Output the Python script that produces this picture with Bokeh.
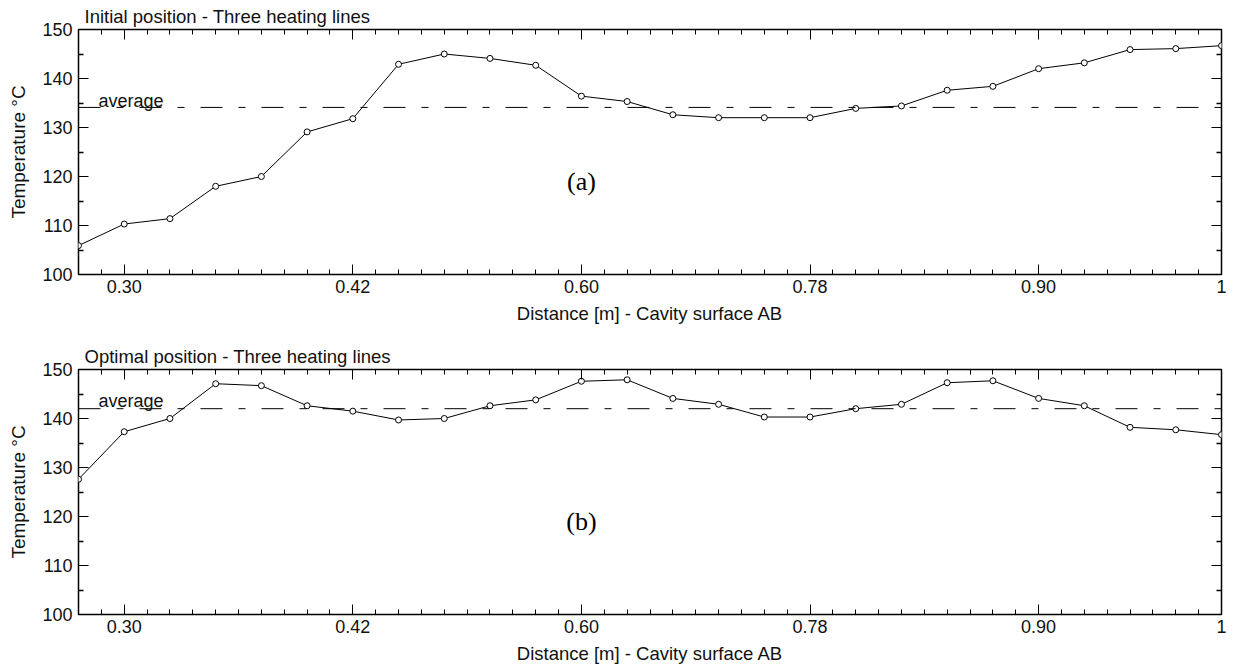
from bokeh.plotting import figure
from bokeh.layouts import column
from bokeh.models import Range1d, FixedTicker, LinearAxis, Span, Label
from bokeh.embed import file_html
from bokeh.resources import INLINE

# ---------------- data ----------------
point_index = list(range(26))
x_tick_positions = [1, 6, 11, 16, 21, 25]
x_tick_labels = ["0.30", "0.42", "0.60", "0.78", "0.90", "1"]
y_ticks = [100, 110, 120, 130, 140, 150]
y_minor_ticks = [105, 115, 125, 135, 145]

temp_initial = [105.9, 110.3, 111.4, 118.0, 120.0, 129.1, 131.8, 142.9, 145.0, 144.1,
                142.7, 136.4, 135.3, 132.6, 132.0, 132.0, 132.0, 133.9, 134.4, 137.6,
                138.4, 142.0, 143.2, 145.9, 146.1, 146.7]
temp_optimal = [127.6, 137.3, 140.0, 147.1, 146.7, 142.6, 141.5, 139.7, 140.0, 142.6,
                143.8, 147.6, 147.9, 144.1, 142.9, 140.3, 140.3, 142.0, 142.9, 147.3,
                147.7, 144.1, 142.6, 138.2, 137.7, 136.7]
avg_initial = 134.1
avg_optimal = 142.0

titles = ["Initial position - Three heating lines", "Optimal position - Three heating lines"]
panel_tags = ["(a)", "(b)"]
x_label = "Distance [m] - Cavity surface AB"
y_label = "Temperature \u00b0C"

FONT = "Liberation Sans"
SERIF = "Liberation Serif"
TXT = "#111111"
x_minor = [i * 0.5 for i in range(0, 51)]


def make_panel(title, temps, avg, tag, height, top, bottom, avg_dy):
    p = figure(width=1233, height=height, output_backend="svg", toolbar_location=None,
               x_range=Range1d(0, 25), y_range=Range1d(100, 150),
               min_border_left=78, min_border_right=12,
               min_border_top=top, min_border_bottom=bottom,
               x_axis_location=None, y_axis_location=None)
    p.xgrid.visible = False
    p.ygrid.visible = False
    p.outline_line_color = "black"
    p.outline_line_width = 1.5
    p.outline_line_alpha = 1.0
    p.background_fill_color = "white"
    p.border_fill_color = "white"

    p.title.text = title
    p.title.align = "left"
    p.title.offset = 6
    p.title.standoff = 5
    p.title.text_font = FONT
    p.title.text_font_size = "18.5px"
    p.title.text_font_style = "normal"
    p.title.text_color = TXT

    xt = FixedTicker(ticks=x_tick_positions, minor_ticks=x_minor)
    yt = FixedTicker(ticks=y_ticks, minor_ticks=y_minor_ticks)
    overrides = {k: v for k, v in zip(x_tick_positions, x_tick_labels)}

    def style(ax, labels):
        ax.axis_line_color = None
        ax.major_tick_in = 10
        ax.major_tick_out = 0
        ax.minor_tick_in = 5
        ax.minor_tick_out = 0
        ax.major_tick_line_color = "black"
        ax.minor_tick_line_color = "black"
        ax.major_tick_line_width = 1
        ax.minor_tick_line_width = 1
        ax.major_label_text_font = FONT
        if labels:
            ax.major_label_text_font_size = "18px"
            ax.major_label_text_color = TXT
        else:
            ax.major_label_text_font_size = "1px"
            ax.major_label_text_color = None
        ax.axis_label_text_font = FONT
        ax.axis_label_text_font_size = "18.5px"
        ax.axis_label_text_font_style = "normal"
        ax.axis_label_text_color = TXT

    xb = LinearAxis(ticker=xt, major_label_overrides=overrides, axis_label=x_label)
    style(xb, True)
    xb.major_label_standoff = 5
    xb.axis_label_standoff = 7
    p.add_layout(xb, "below")

    xa = LinearAxis(ticker=xt, major_label_overrides=overrides)
    style(xa, False)
    xa.major_label_standoff = 0
    p.add_layout(xa, "above")

    yl = LinearAxis(ticker=yt, axis_label=y_label)
    style(yl, True)
    yl.axis_label_text_font_size = "19px"
    yl.minor_tick_line_width = 1.5
    yl.major_label_standoff = 6
    yl.axis_label_standoff = 10
    p.add_layout(yl, "left")

    yr = LinearAxis(ticker=yt)
    style(yr, False)
    yr.minor_tick_line_width = 1.5
    yr.major_label_standoff = 0
    p.add_layout(yr, "right")

    p.add_layout(Span(location=avg, dimension="width", line_color="black",
                      line_width=1, line_dash="22 16 7 16"))

    p.line(point_index, temps, line_color="black", line_width=1)
    p.scatter(point_index, temps, marker="circle", size=6, fill_color="white",
              line_color="black", line_width=1)

    p.add_layout(Label(x=0, y=avg, x_offset=20, y_offset=avg_dy, text="average",
                       text_font=FONT, text_font_size="18px", text_color=TXT,
                       text_baseline="alphabetic", text_align="left"))
    p.add_layout(Label(x=11, y=119, text=tag, text_font=SERIF, text_font_size="26px",
                       text_color="black", text_baseline="middle", text_align="center"))
    return p


p1 = make_panel(titles[0], temp_initial, avg_initial, panel_tags[0], 332, 29, 58, 6)
p2 = make_panel(titles[1], temp_optimal, avg_optimal, panel_tags[1], 336, 37, 54, 8)

layout = column(p1, p2, spacing=0)
open("out.html", "w").write(file_html(layout, INLINE))
